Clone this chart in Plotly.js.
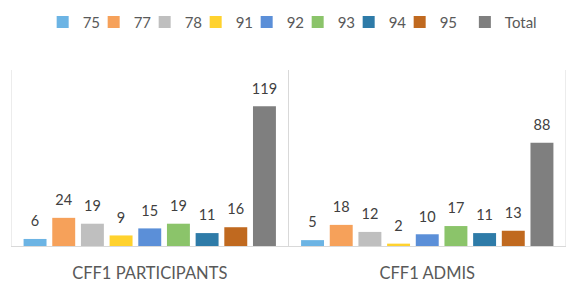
<!DOCTYPE html>
<html>
<head>
<meta charset="utf-8">
<script src="https://cdn.plot.ly/plotly-3.0.1.min.js"></script>
<style>html,body{margin:0;padding:0;background:#fff}#chart{width:569px;height:282px}</style>
</head>
<body>
<div id="chart"></div>
<script>
const categories = ["CFF1 PARTICIPANTS", "CFF1 ADMIS"];
const seriesNames = ["75", "77", "78", "91", "92", "93", "94", "95", "Total"];
const s75 = [6, 5];
const s77 = [24, 18];
const s78 = [19, 12];
const s91 = [9, 2];
const s92 = [15, 10];
const s93 = [19, 17];
const s94 = [11, 11];
const s95 = [16, 13];
const sTotal = [119, 88];
const seriesValues = [s75, s77, s78, s91, s92, s93, s94, s95, sTotal];
const colors = ["#6CB4E4", "#F6A15A", "#BFBFBF", "#FFD22E", "#5B8FD8", "#8BC46A", "#2E7BA8", "#C0691F", "#7F7F7F"];

const font = "Lato, 'Open Sans', sans-serif";
const barTraces = seriesNames.map((n, i) => ({
  type: "bar",
  name: n,
  x: categories,
  y: seriesValues[i],
  marker: {color: colors[i]},
  legend: n === "Total" ? "legend2" : "legend",
  hoverinfo: "skip"
}));
const labelTraces = seriesNames.map((n, i) => ({
  type: "scatter",
  mode: "text+markers",
  name: n + " label",
  x: categories,
  y: seriesValues[i],
  marker: {size: 13, opacity: 0, color: colors[i]},
  text: seriesValues[i].map(String),
  textposition: "top center",
  textfont: {family: font, size: 14.5, color: "#404040"},
  cliponaxis: false,
  showlegend: false,
  hoverinfo: "skip"
}));
// empty spacer entry so the last legend text is not clipped
const spacer = {
  type: "scatter", mode: "markers", name: " ",
  x: [null], y: [null], xaxis: "x2", yaxis: "y2",
  marker: {color: "rgba(0,0,0,0)"}, legend: "legend", hoverinfo: "skip"
};

const boundaries = [-0.5, 0.5, 1.5];
const shapes = boundaries.map(b => ({
  type: "line", xref: "x", yref: "paper", x0: b, x1: b, y0: 0, y1: 1,
  line: {color: "#D9D9D9", width: 1}, layer: "below"
}));

const legendFont = {family: font, size: 15, color: "#595959"};
const layout = {
  width: 569, height: 282,
  margin: {l: 11, r: 3, t: 70, b: 36},
  paper_bgcolor: "#fff", plot_bgcolor: "#fff",
  barmode: "group",
  bargap: 0.07,
  bargroupgap: 0.2,
  scattermode: "group",
  scattergap: 0.07,
  showlegend: true,
  legend: {
    orientation: "h", xref: "container", x: 0.075, xanchor: "left",
    yref: "container", y: 0.98, yanchor: "top",
    font: legendFont,
    itemwidth: 30, entrywidth: 6, entrywidthmode: "pixels", tracegroupgap: 0
  },
  legend2: {
    orientation: "h", xref: "container", x: 0.817, xanchor: "left",
    yref: "container", y: 0.98, yanchor: "top",
    font: legendFont,
    itemwidth: 30
  },
  xaxis: {
    type: "category",
    range: [-0.5, 1.5],
    showline: true, linecolor: "#D9D9D9", linewidth: 1,
    showgrid: false, ticks: "",
    ticklabelstandoff: 12,
    tickfont: {family: font, size: 16.5, color: "#595959"},
    fixedrange: true
  },
  yaxis: {
    range: [0, 150],
    showgrid: false, zeroline: false, showticklabels: false, ticks: "",
    fixedrange: true
  },
  xaxis2: {overlaying: "x", visible: false, fixedrange: true},
  yaxis2: {overlaying: "y", visible: false, fixedrange: true},
  shapes: shapes,
  font: {family: font}
};

Plotly.newPlot("chart", barTraces.concat(labelTraces, [spacer]), layout, {displayModeBar: false, staticPlot: true});
</script>
</body>
</html>
